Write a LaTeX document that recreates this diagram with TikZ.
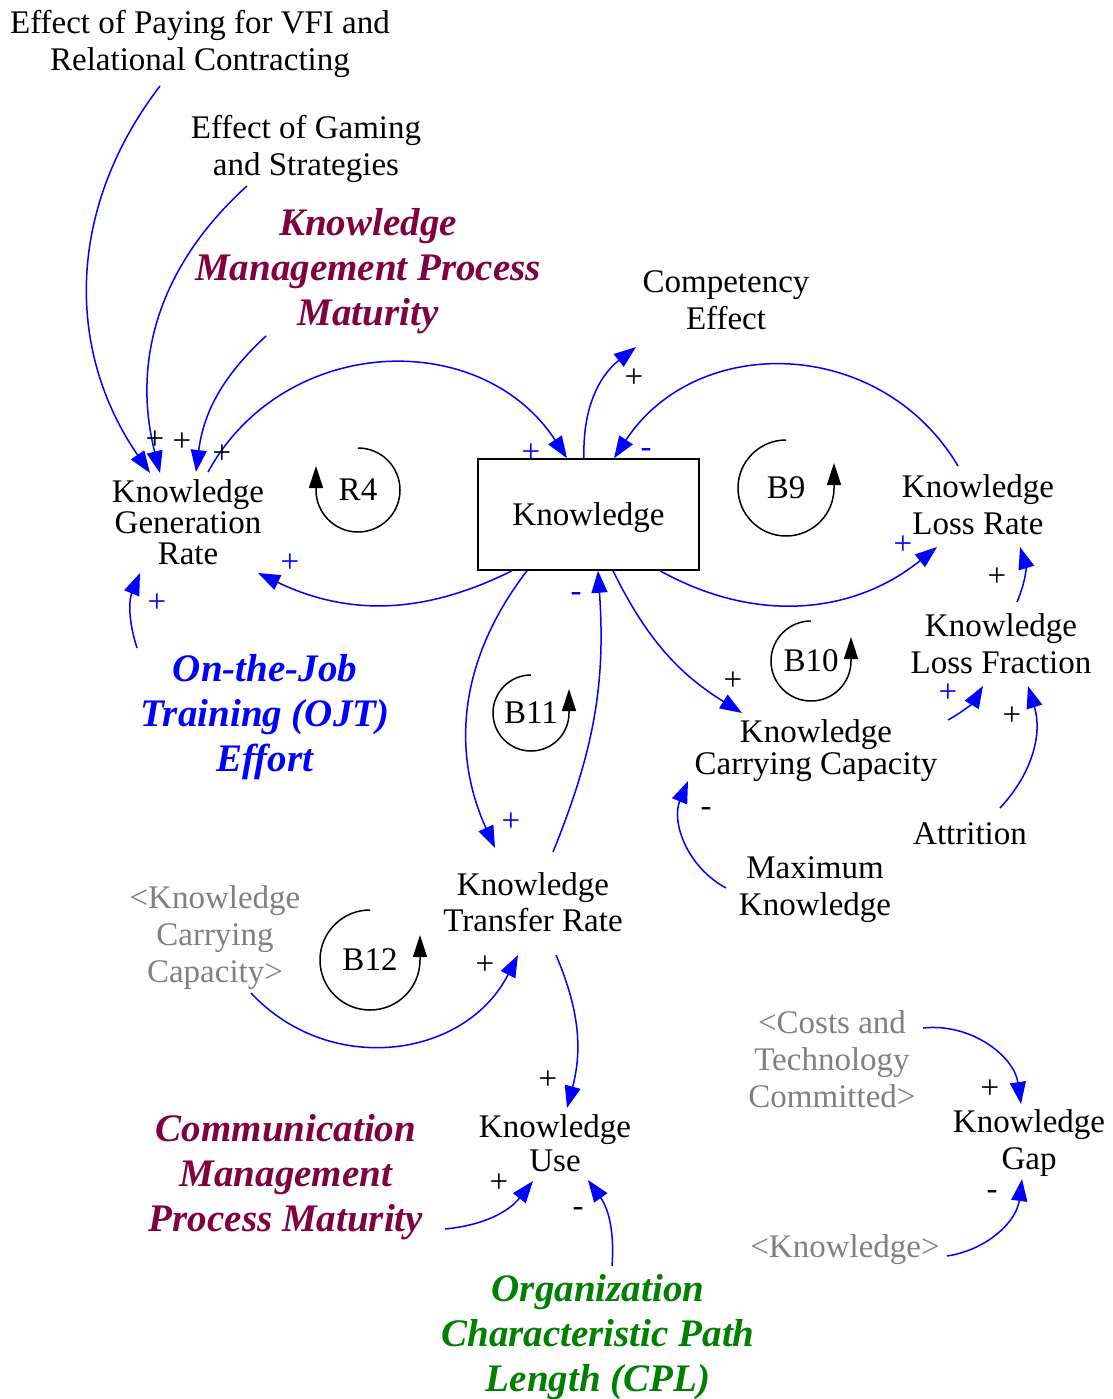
\documentclass[tikz,border=0pt]{standalone}
\usepackage{fontspec}
\setmainfont{Liberation Serif}
\usepackage{tikz}
\usetikzlibrary{arrows.meta, calc, positioning}

\definecolor{LinkBlue}{RGB}{0,0,255}
\definecolor{PolicyRed}{RGB}{128,0,64}
\definecolor{PolicyGreen}{RGB}{0,128,0}
\definecolor{ShadowGray}{RGB}{128,128,128}

\newcommand{\varfont}{\fontsize{33}{37}\selectfont}
\newcommand{\polfont}{\fontsize{39}{45}\selectfont\bfseries\itshape}

\tikzset{
  var/.style = {align=center, inner sep=0pt, font=\varfont},
  tight/.style = {font=\fontsize{33}{#1}\selectfont},
  shadow/.style = {var, text=ShadowGray},
  policy/.style = {align=center, inner sep=0pt, font=\polfont},
  stock/.style = {draw, line width=1.5pt, minimum width=221pt, minimum height=111pt, text depth=0pt, font=\varfont},
  link/.style = {LinkBlue, line width=1.5pt, -{Triangle[length=22pt, width=16pt]}},
  sign/.style = {inner sep=0pt, font=\varfont},
  loopsym/.style = {black, line width=1.5pt, -{Triangle[length=22pt, width=14pt]}}
}

\begin{document}
\begin{tikzpicture}[x=1pt, y=1pt]
  \useasboundingbox (0,0) rectangle (1112,-1399);

  % variables
  \node[var] (vfi) at (200,-44) {Effect of Paying for VFI and\\Relational Contracting};
  \node[var] (gaming) at (306,-149) {Effect of Gaming\\and Strategies};
  \node[policy, PolicyRed] (kmpm) at (368,-271) {Knowledge\\Management Process\\Maturity};
  \node[var] (comp) at (726,-300) {Competency\\Effect};
  \node[var, tight=31] (kgr) at (188,-522) {Knowledge\\Generation\\Rate};
  \node[stock] (stock) at (588.5,-514.5) {Knowledge};
  \node[var] (klr) at (978,-505) {Knowledge\\Loss Rate};
  \node[var] (klf) at (1001,-644) {Knowledge\\Loss Fraction};
  \node[var, tight=32] (kcc) at (816,-751) {Knowledge\\Carrying Capacity};
  \node[var] (attr) at (970,-834) {Attrition};
  \node[var] (maxk) at (815,-890) {Maximum\\Knowledge};
  \node[policy, LinkBlue] (ojt) at (265,-717) {On-the-Job\\Training (OJT)\\Effort};
  \node[var, tight=36] (ktr) at (533,-902) {Knowledge\\Transfer Rate};
  \node[shadow] (kccS) at (215,-937.5) {<Knowledge\\Carrying\\Capacity>};
  \node[var, tight=34] (ku) at (555,-1143) {Knowledge\\Use};
  \node[policy, PolicyRed] (cmpm) at (286,-1177) {Communication\\Management\\Process Maturity};
  \node[policy, PolicyGreen] (ocpl) at (598,-1337) {Organization\\Characteristic Path\\Length (CPL)};
  \node[shadow] (costs) at (832,-1059) {<Costs and\\Technology\\Committed>};
  \node[var] (kgap) at (1029,-1143) {Knowledge\\Gap};
  \node[shadow] (knowS) at (845,-1250) {<Knowledge>};

  % causal links
  \draw[link] ($(vfi)+(-40,-42)$) to[bend right=36] ($(kgr)+(-38,49)$);
  \draw[link] ($(gaming)+(-59,-37)$) to[bend right=31] ($(kgr)+(-28,49)$);
  \draw[link] ($(kmpm)+(-102,-65)$) to[bend right=20] ($(kgr)+(8,50)$);
  \draw[link] ($(kgr)+(20,50)$) to[bend left=59, looseness=1.12] ([xshift=-21.5pt]stock.north);
  \draw[link] ([xshift=-76.5pt]stock.south) to[bend left=26] ($(kgr)+(70,-51)$);
  \draw[link] ($(ojt)+(-128,69)$) to[bend left=20] ($(kgr)+(-48,-51)$);
  \draw[link] ([xshift=-4.5pt]stock.north) to[bend left=27] ($(comp)+(-90,-47)$);
  \draw[link] ($(klr)+(-20,39)$) to[bend right=58, looseness=1.12] ([xshift=25.5pt]stock.north);
  \draw[link] ([xshift=71.5pt]stock.south) to[bend right=34] ($(klr)+(-41,-42)$);
  \draw[link] ($(klf)+(16,42)$) to[bend right=20] ($(klr)+(42,-42)$);
  \draw[link] ([xshift=-61.5pt]stock.south) to[bend right=31] ($(ktr)+(-38,54)$);
  \draw[link] ($(ktr)+(20,50)$) to[bend right=13] ([xshift=9.5pt]stock.south);
  \draw[link] ([xshift=24.5pt]stock.south) to[bend right=16] ($(kcc)+(-74,38)$);
  \draw[link] ($(kcc)+(132,31)$) to[bend right=15] ($(klf)+(-18,-42)$);
  \draw[link] ($(attr)+(30,26)$) to[bend right=30] ($(klf)+(27,-42)$);
  \draw[link] ($(maxk)+(-89,2)$) to[bend left=42] ($(kcc)+(-128,-30)$);
  \draw[link] ($(kccS)+(36,-55.5)$) to[bend right=55, looseness=1.1] ($(ktr)+(-15,-53)$);
  \draw[link] ($(ktr)+(23,-53)$) to[bend left=19] ($(ku)+(12,35)$);
  \draw[link] ($(cmpm)+(159,-52)$) to[bend right=23] ($(ku)+(-22,-38)$);
  \draw[link] ($(ocpl)+(14,71)$) to[bend right=20] ($(ku)+(33,-37)$);
  \draw[link] ($(costs)+(91,31)$) to[bend left=44] ($(kgap)+(-8,39)$);
  \draw[link] ($(knowS)+(102,-6)$) to[bend right=37] ($(kgap)+(-7,-36)$);

  % link polarities
  \foreach \n/\x/\y/\s/\c in {1/155/440/+/black, 2/182/442/+/black, 3/222/454/+/black,
      4/531/453/+/LinkBlue, 5/290/563/+/LinkBlue, 6/157/603/+/LinkBlue,
      7/634/378/+/black, 8/646/453/-/LinkBlue, 9/903/545/+/LinkBlue,
      10/997/577/+/black, 11/511/822/+/LinkBlue, 12/576/597/-/LinkBlue,
      13/733/681/+/black, 14/948/693/+/LinkBlue, 15/1012/716/+/black,
      16/706/812/-/black, 17/485/965/+/black, 18/548/1080/+/black,
      19/499/1183/+/black, 20/578/1212/-/black, 21/990/1089/+/black,
      22/992/1195/-/black}
    \node[sign, \c] (sign\n) at (\x,-\y) {\s};

  % loop markers
  \node[var] (r4) at (358,-490) {R4};
  \draw[loopsym] (r4.center) ++(0,42) arc[start angle=90, end angle=-180, radius=42] -- ++(0,24);
  \node[var] (b9) at (786,-488) {B9};
  \draw[loopsym] (b9.center) ++(0,48) arc[start angle=90, end angle=360, radius=48] -- ++(0,25);
  \node[var] (b10) at (811,-661) {B10};
  \draw[loopsym] (b10.center) ++(0,40) arc[start angle=90, end angle=360, radius=40] -- ++(0,24);
  \node[var] (b11) at (531,-713) {B11};
  \draw[loopsym] (b11.center) ++(0,38) arc[start angle=90, end angle=360, radius=38] -- ++(0,24);
  \node[var] (b12) at (370,-960) {B12};
  \draw[loopsym] (b12.center) ++(0,50) arc[start angle=90, end angle=360, radius=50] -- ++(0,25);
\end{tikzpicture}
\end{document}
